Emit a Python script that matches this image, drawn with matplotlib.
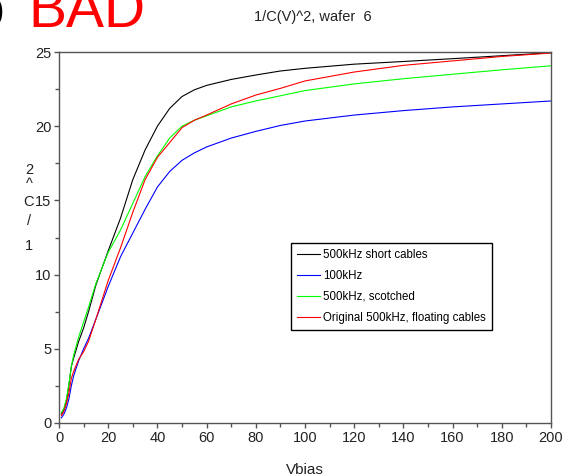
import matplotlib

matplotlib.use("Agg")
import matplotlib.pyplot as plt  # noqa: E402
from matplotlib.ticker import MultipleLocator  # noqa: E402

plt.rcParams["font.family"] = ["Liberation Sans", "DejaVu Sans"]

# bias voltage grid (V) and 1/C^2 readings for each measurement run
vbias = [1, 2, 3, 4, 5, 6, 8, 10, 12, 15, 20, 25, 30, 35, 40, 45, 50, 55, 60,
         70, 80, 90, 100, 120, 140, 160, 180, 200]
short_cables = [0.6, 0.9, 1.5, 2.5, 3.8, 4.4, 5.5, 6.4, 7.5, 9.3, 11.6, 13.8, 16.4,
                18.4, 20.0, 21.2, 22.0, 22.45, 22.75, 23.15, 23.45, 23.72, 23.9,
                24.18, 24.36, 24.55, 24.75, 24.95]
khz100 = [0.35, 0.6, 1.0, 1.6, 2.5, 3.2, 4.2, 5.0, 5.7, 7.0, 9.2, 11.2, 12.8, 14.4,
          15.9, 16.95, 17.7, 18.2, 18.6, 19.2, 19.65, 20.05, 20.35, 20.75, 21.05,
          21.3, 21.5, 21.7]
scotched = [0.7, 1.0, 1.6, 2.6, 3.8, 4.6, 5.8, 6.8, 7.8, 9.4, 11.5, 13.0, 14.8,
            16.6, 18.0, 19.2, 20.0, 20.4, 20.7, 21.3, 21.7, 22.05, 22.4, 22.85,
            23.2, 23.5, 23.8, 24.07]
floating = [0.5, 0.8, 1.3, 2.0, 3.0, 3.5, 4.3, 4.8, 5.5, 7.0, 9.6, 11.8, 14.2, 16.4,
            17.9, 18.9, 19.9, 20.4, 20.75, 21.5, 22.1, 22.55, 23.05, 23.65, 24.1,
            24.4, 24.7, 24.93]

series = [
    ("500kHz short cables", short_cables, "black"),
    ("100kHz", khz100, "blue"),
    ("500kHz, scotched", scotched, "#00ff00"),
    ("Original 500kHz, floating cables", floating, "red"),
]
ylabel_chars = ["2", "^", "C", "/", "1"]

W, H = 567, 476
fig = plt.figure(figsize=(W / 100, H / 100), dpi=100)
ax = fig.add_axes([59 / W, 1 - 423 / H, (551 - 59) / W, (423 - 52) / H])

for label, ys, color in series:
    ax.plot(vbias, ys, color=color, lw=0.8, label=label)

ax.set_xlim(0, 200)
ax.set_ylim(0, 25)
ax.xaxis.set_major_locator(MultipleLocator(20))
ax.xaxis.set_minor_locator(MultipleLocator(10))
ax.yaxis.set_major_locator(MultipleLocator(5))
ax.yaxis.set_minor_locator(MultipleLocator(2.5))

axis_grey = "#555555"
for sp in ax.spines.values():
    sp.set_color(axis_grey)
    sp.set_linewidth(1.0)
ax.tick_params(which="both", direction="out", color=axis_grey, width=1.0,
               labelsize=10.5, labelcolor="#222222", pad=2)
ax.tick_params(which="major", length=3.5)
ax.tick_params(which="minor", length=3.0)

ax.set_xlabel("Vbias", fontsize=11, color="#222222", labelpad=13)

# vertical y label drawn as stacked upright characters
for ch, ypix in zip(ylabel_chars, [170, 184, 202, 221, 246]):
    fig.text(29 / W, 1 - ypix / H, ch, fontsize=10.5, color="#222222",
             ha="center", va="center")

fig.text(313 / W, 1 - 17 / H, "1/C(V)^2, wafer  6", fontsize=10.5,
         color="#222222", ha="center", va="center")

# slide annotation cut off at the top-left corner
fig.text(28 / W, 1 - 27 / H, "BAD", fontsize=41, color="red",
         ha="left", va="baseline")
fig.text(4 / W, 1 - 27 / H, "o", fontsize=41, color="black",
         ha="right", va="baseline")

leg = ax.legend(loc="upper left", bbox_to_anchor=(291 / W, 1 - 243 / H),
                bbox_transform=fig.transFigure, fontsize=8.3, frameon=True,
                fancybox=False, framealpha=1, edgecolor="black",
                handlelength=2.0, handletextpad=0.3, labelspacing=0.78,
                borderpad=0.5, borderaxespad=0)
leg.get_frame().set_linewidth(1.0)

fig.savefig("out.png", dpi=100)
